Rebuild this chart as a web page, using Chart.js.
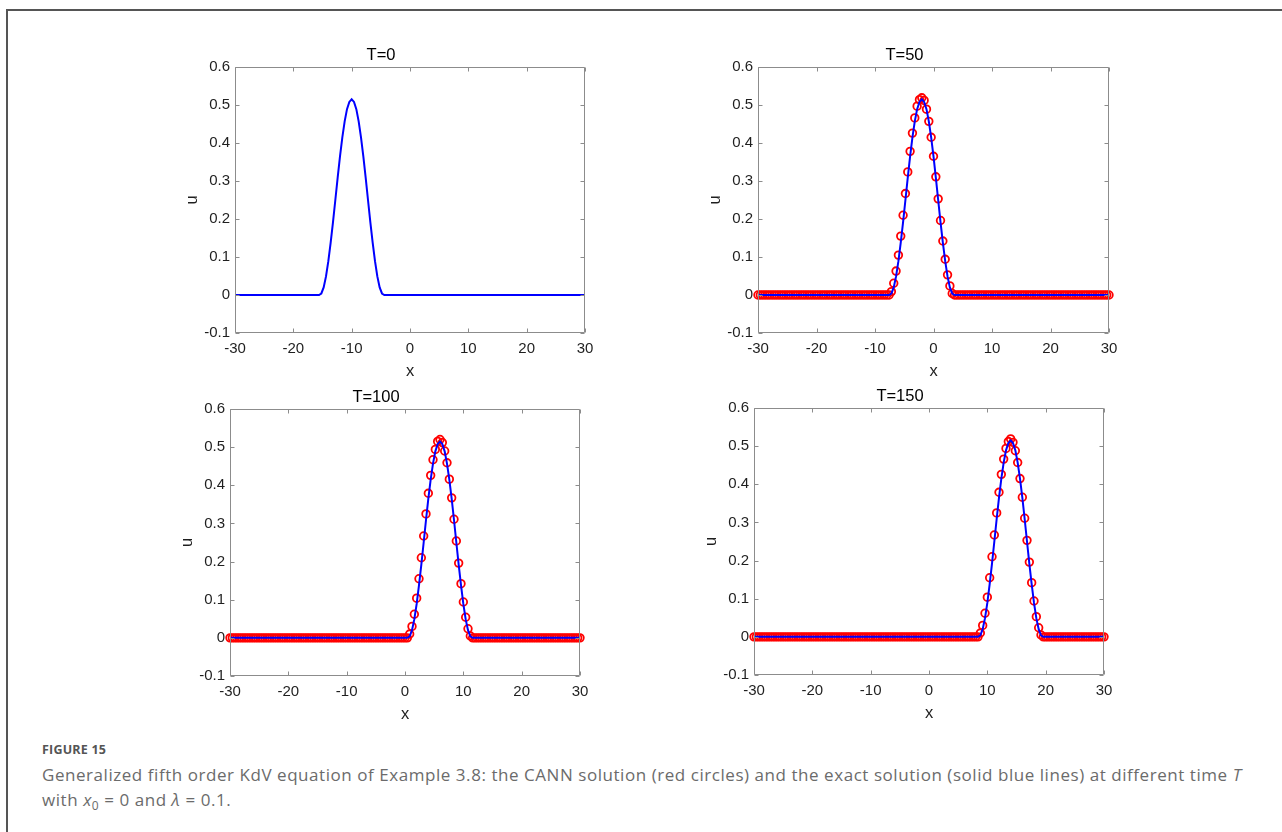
<!DOCTYPE html>
<html>
<head>
<meta charset="utf-8">
<script src="https://cdn.jsdelivr.net/npm/chart.js@4.4.1/dist/chart.umd.min.js"></script>
<style>
  body { margin: 0; width: 1282px; height: 832px; background: #fff; overflow: hidden; position: relative; }
  .frame { position: absolute; left: 6px; top: 9px; width: 1300px; height: 900px; border-top: 2px solid #555; border-left: 2px solid #555; }
  canvas { position: absolute; }
  .figlabel { position: absolute; left: 42px; top: 741px; font: bold 12.5px "Open Sans", sans-serif; color: #555; letter-spacing: 0.2px; }
  .caption { position: absolute; left: 42px; top: 762px; font: 17px/25px "Open Sans", sans-serif; color: #6b6b6b; white-space: nowrap; letter-spacing: 0.55px; }
</style>
</head>
<body>
<div class="frame"></div>
<canvas id="c0"></canvas>
<canvas id="c50"></canvas>
<canvas id="c100"></canvas>
<canvas id="c150"></canvas>
<div class="figlabel">FIGURE 15</div>
<div class="caption">Generalized fifth order KdV equation of Example 3.8: the CANN solution (red circles) and the exact solution (solid blue lines) at different time <i>T</i><br>with <i>x</i><sub style="font-size:12px">0</sub> = 0 and <i>λ</i> = 0.1.</div>
<script>
// grid, x = -30 .. 30
var xs = [
  -30,-29.6,-29.2,-28.8,-28.4,-28,-27.6,-27.2,-26.8,-26.4,
  -26,-25.6,-25.2,-24.8,-24.4,-24,-23.6,-23.2,-22.8,-22.4,
  -22,-21.6,-21.2,-20.8,-20.4,-20,-19.6,-19.2,-18.8,-18.4,
  -18,-17.6,-17.2,-16.8,-16.4,-16,-15.6,-15.2,-14.8,-14.4,
  -14,-13.6,-13.2,-12.8,-12.4,-12,-11.6,-11.2,-10.8,-10.4,
  -10,-9.6,-9.2,-8.8,-8.4,-8,-7.6,-7.2,-6.8,-6.4,
  -6,-5.6,-5.2,-4.8,-4.4,-4,-3.6,-3.2,-2.8,-2.4,
  -2,-1.6,-1.2,-0.8,-0.4,0,0.4,0.8,1.2,1.6,
  2,2.4,2.8,3.2,3.6,4,4.4,4.8,5.2,5.6,
  6,6.4,6.8,7.2,7.6,8,8.4,8.8,9.2,9.6,
  10,10.4,10.8,11.2,11.6,12,12.4,12.8,13.2,13.6,
  14,14.4,14.8,15.2,15.6,16,16.4,16.8,17.2,17.6,
  18,18.4,18.8,19.2,19.6,20,20.4,20.8,21.2,21.6,
  22,22.4,22.8,23.2,23.6,24,24.4,24.8,25.2,25.6,
  26,26.4,26.8,27.2,27.6,28,28.4,28.8,29.2,29.6,
  30
];

// exact solution (blue lines)
var exactT0 = [
  0,0,0,0,0,0,0,0,0,0,
  0,0,0,0,0,0,0,0,0,0,
  0,0,0,0,0,0,0,0,0,0,
  0,0,0,0,0,0,0,0.004,0.020,0.049,
  0.089,0.138,0.192,0.250,0.309,0.365,0.415,0.457,0.489,0.508,
  0.515,0.508,0.489,0.457,0.415,0.365,0.309,0.250,0.192,0.138,
  0.089,0.049,0.020,0.004,0,0,0,0,0,0,
  0,0,0,0,0,0,0,0,0,0,
  0,0,0,0,0,0,0,0,0,0,
  0,0,0,0,0,0,0,0,0,0,
  0,0,0,0,0,0,0,0,0,0,
  0,0,0,0,0,0,0,0,0,0,
  0,0,0,0,0,0,0,0,0,0,
  0,0,0,0,0,0,0,0,0,0,
  0,0,0,0,0,0,0,0,0,0,
  0
];
var exactT50 = [
  0,0,0,0,0,0,0,0,0,0,
  0,0,0,0,0,0,0,0,0,0,
  0,0,0,0,0,0,0,0,0,0,
  0,0,0,0,0,0,0,0,0,0,
  0,0,0,0,0,0,0,0,0,0,
  0,0,0,0,0,0,0,0.004,0.020,0.049,
  0.089,0.138,0.192,0.250,0.309,0.365,0.415,0.457,0.489,0.508,
  0.515,0.508,0.489,0.457,0.415,0.365,0.309,0.250,0.192,0.138,
  0.089,0.049,0.020,0.004,0,0,0,0,0,0,
  0,0,0,0,0,0,0,0,0,0,
  0,0,0,0,0,0,0,0,0,0,
  0,0,0,0,0,0,0,0,0,0,
  0,0,0,0,0,0,0,0,0,0,
  0,0,0,0,0,0,0,0,0,0,
  0,0,0,0,0,0,0,0,0,0,
  0
];
var exactT100 = [
  0,0,0,0,0,0,0,0,0,0,
  0,0,0,0,0,0,0,0,0,0,
  0,0,0,0,0,0,0,0,0,0,
  0,0,0,0,0,0,0,0,0,0,
  0,0,0,0,0,0,0,0,0,0,
  0,0,0,0,0,0,0,0,0,0,
  0,0,0,0,0,0,0,0,0,0,
  0,0,0,0,0,0,0,0.004,0.020,0.049,
  0.089,0.138,0.192,0.250,0.309,0.365,0.415,0.457,0.489,0.508,
  0.515,0.508,0.489,0.457,0.415,0.365,0.309,0.250,0.192,0.138,
  0.089,0.049,0.020,0.004,0,0,0,0,0,0,
  0,0,0,0,0,0,0,0,0,0,
  0,0,0,0,0,0,0,0,0,0,
  0,0,0,0,0,0,0,0,0,0,
  0,0,0,0,0,0,0,0,0,0,
  0
];
var exactT150 = [
  0,0,0,0,0,0,0,0,0,0,
  0,0,0,0,0,0,0,0,0,0,
  0,0,0,0,0,0,0,0,0,0,
  0,0,0,0,0,0,0,0,0,0,
  0,0,0,0,0,0,0,0,0,0,
  0,0,0,0,0,0,0,0,0,0,
  0,0,0,0,0,0,0,0,0,0,
  0,0,0,0,0,0,0,0,0,0,
  0,0,0,0,0,0,0,0,0,0,
  0,0,0,0,0,0,0,0.004,0.020,0.049,
  0.089,0.138,0.192,0.250,0.309,0.365,0.415,0.457,0.489,0.508,
  0.515,0.508,0.489,0.457,0.415,0.365,0.309,0.250,0.192,0.138,
  0.089,0.049,0.020,0.004,0,0,0,0,0,0,
  0,0,0,0,0,0,0,0,0,0,
  0,0,0,0,0,0,0,0,0,0,
  0
];

// CANN solution (red circles)
var cannT50 = [
  0,0,0,0,0,0,0,0,0,0,
  0,0,0,0,0,0,0,0,0,0,
  0,0,0,0,0,0,0,0,0,0,
  0,0,0,0,0,0,0,0,0,0,
  0,0,0,0,0,0,0,0,0,0,
  0,0,0,0,0,0,0,0.009,0.031,0.063,
  0.105,0.155,0.210,0.267,0.324,0.378,0.426,0.466,0.497,0.514,
  0.519,0.512,0.489,0.457,0.415,0.365,0.311,0.253,0.196,0.142,
  0.094,0.053,0.024,0.004,0,0,0,0,0,0,
  0,0,0,0,0,0,0,0,0,0,
  0,0,0,0,0,0,0,0,0,0,
  0,0,0,0,0,0,0,0,0,0,
  0,0,0,0,0,0,0,0,0,0,
  0,0,0,0,0,0,0,0,0,0,
  0,0,0,0,0,0,0,0,0,0,
  0
];
var cannT100 = [
  0,0,0,0,0,0,0,0,0,0,
  0,0,0,0,0,0,0,0,0,0,
  0,0,0,0,0,0,0,0,0,0,
  0,0,0,0,0,0,0,0,0,0,
  0,0,0,0,0,0,0,0,0,0,
  0,0,0,0,0,0,0,0,0,0,
  0,0,0,0,0,0,0,0,0,0,
  0,0,0,0,0,0,0,0.010,0.030,0.062,
  0.104,0.155,0.210,0.267,0.325,0.379,0.426,0.467,0.494,0.515,
  0.520,0.512,0.490,0.459,0.416,0.367,0.311,0.254,0.196,0.142,
  0.094,0.054,0.024,0.005,0,0,0,0,0,0,
  0,0,0,0,0,0,0,0,0,0,
  0,0,0,0,0,0,0,0,0,0,
  0,0,0,0,0,0,0,0,0,0,
  0,0,0,0,0,0,0,0,0,0,
  0
];
var cannT150 = [
  0,0,0,0,0,0,0,0,0,0,
  0,0,0,0,0,0,0,0,0,0,
  0,0,0,0,0,0,0,0,0,0,
  0,0,0,0,0,0,0,0,0,0,
  0,0,0,0,0,0,0,0,0,0,
  0,0,0,0,0,0,0,0,0,0,
  0,0,0,0,0,0,0,0,0,0,
  0,0,0,0,0,0,0,0,0,0,
  0,0,0,0,0,0,0,0,0,0,
  0,0,0,0,0,0,0,0.010,0.030,0.062,
  0.104,0.155,0.210,0.267,0.325,0.379,0.426,0.466,0.494,0.512,
  0.519,0.510,0.488,0.457,0.415,0.366,0.311,0.253,0.196,0.142,
  0.094,0.053,0.024,0.005,0,0,0,0,0,0,
  0,0,0,0,0,0,0,0,0,0,
  0,0,0,0,0,0,0,0,0,0,
  0
];

var xTicks = [-30, -20, -10, 0, 10, 20, 30];
var yTicks = [-0.1, 0, 0.1, 0.2, 0.3, 0.4, 0.5, 0.6];

var AXIS = '#8c8c8c';
var TEXT = '#1f1f1f';
var FONT = '"Liberation Sans", Arial, sans-serif';
var Y_W = 58, X_H = 50, TITLE_H = 26, PAD_R = 22;

// MATLAB-ish box with inward ticks on all four sides
var boxPlugin = {
  id: 'box',
  afterDraw: function (chart) {
    var ctx = chart.ctx, a = chart.chartArea;
    var sx = chart.scales.x, sy = chart.scales.y;
    var L = Math.round(a.left) + 0.5, R = Math.round(a.right) - 0.5;
    var T = Math.round(a.top) + 0.5, B = Math.round(a.bottom) - 0.5;
    ctx.save();
    ctx.strokeStyle = AXIS;
    ctx.lineWidth = 1;
    ctx.beginPath();
    ctx.rect(L, T, R - L, B - T);
    xTicks.forEach(function (v) {
      var p = Math.round(sx.getPixelForValue(v)) + 0.5;
      ctx.moveTo(p, B); ctx.lineTo(p, B - 4);
      ctx.moveTo(p, T); ctx.lineTo(p, T + 4);
    });
    yTicks.forEach(function (v) {
      var p = Math.round(sy.getPixelForValue(v)) + 0.5;
      ctx.moveTo(L, p); ctx.lineTo(L + 4, p);
      ctx.moveTo(R, p); ctx.lineTo(R - 4, p);
    });
    ctx.stroke();
    ctx.restore();
  }
};

function pts(ys) {
  return xs.map(function (x, i) { return { x: x, y: ys[i] }; });
}

function panel(id, title, rect, exact, cann) {
  var cv = document.getElementById(id);
  cv.width = Y_W + rect.w + PAD_R;
  cv.height = TITLE_H + rect.h + X_H;
  cv.style.left = (rect.l - Y_W) + 'px';
  cv.style.top = (rect.t - TITLE_H) + 'px';

  var datasets = [{
    data: pts(exact),
    showLine: true,
    borderColor: '#0000ff',
    borderWidth: 2,
    pointRadius: 0,
    tension: 0
  }];
  if (cann) {
    datasets.push({
      data: pts(cann),
      showLine: false,
      borderColor: '#ff0000',
      backgroundColor: 'rgba(0,0,0,0)',
      pointRadius: 3.8,
      pointBorderWidth: 1.8,
      clip: false
    });
  }

  return new Chart(cv, {
    type: 'scatter',
    data: { datasets: datasets },
    plugins: [boxPlugin],
    options: {
      responsive: false,
      animation: false,
      devicePixelRatio: 1,
      layout: { padding: { left: 0, right: PAD_R, top: 0, bottom: 0 } },
      plugins: {
        legend: { display: false },
        tooltip: { enabled: false },
        title: {
          display: true,
          text: title,
          color: '#000',
          font: { family: FONT, size: 16.5, weight: 'normal', lineHeight: 1.2 },
          padding: { top: 4.2, bottom: 2 }
        }
      },
      scales: {
        x: {
          type: 'linear',
          min: -30, max: 30,
          afterBuildTicks: function (s) { s.ticks = xTicks.map(function (v) { return { value: v }; }); },
          afterFit: function (s) { s.height = X_H; s.paddingLeft = 0; s.paddingRight = 0; },
          grid: { display: false, drawTicks: false },
          border: { display: false },
          ticks: { color: TEXT, font: { family: FONT, size: 15 }, padding: 7, maxRotation: 0 },
          title: { display: true, text: 'x', color: TEXT, font: { family: FONT, size: 16.5, lineHeight: 1.2 }, padding: { top: 0, bottom: 1.4 } }
        },
        y: {
          type: 'linear',
          min: -0.1, max: 0.6,
          afterBuildTicks: function (s) { s.ticks = yTicks.map(function (v) { return { value: v }; }); },
          afterFit: function (s) { s.width = Y_W; s.paddingTop = 0; s.paddingBottom = 0; },
          grid: { display: false, drawTicks: false },
          border: { display: false },
          ticks: {
            color: TEXT, font: { family: FONT, size: 15 }, padding: 5,
            callback: function (v) { return String(+v.toFixed(1)); }
          },
          title: { display: true, text: 'u', color: TEXT, font: { family: FONT, size: 16.5, lineHeight: 1.2 }, padding: { top: 5.1, bottom: 0 } }
        }
      }
    }
  });
}

panel('c0', 'T=0', { l: 235, t: 67, w: 350, h: 266 }, exactT0, null);
panel('c50', 'T=50', { l: 758, t: 67, w: 351, h: 266 }, exactT50, cannT50);
panel('c100', 'T=100', { l: 230, t: 409, w: 350, h: 267 }, exactT100, cannT100);
panel('c150', 'T=150', { l: 754, t: 408, w: 350, h: 267 }, exactT150, cannT150);
</script>
</body>
</html>
